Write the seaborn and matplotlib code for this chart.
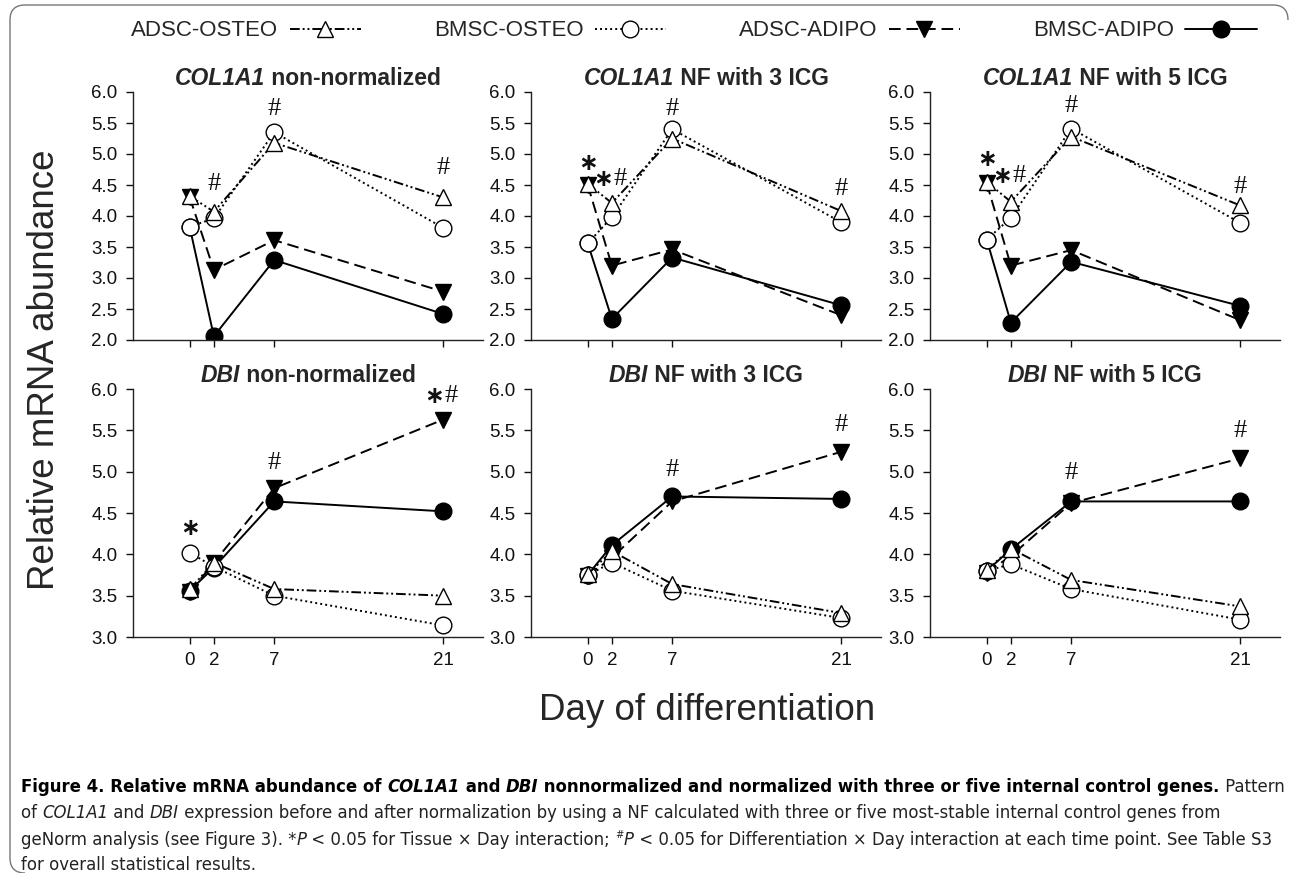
"""
Relative mRNA abundance of COL1A1 and DBI, six panels with a shared legend and caption.
"""

#Libraries
import numpy as np
import pandas as pd
import matplotlib
matplotlib.use("Agg")
import matplotlib.pyplot as plt
import matplotlib.font_manager as fm
from matplotlib.path import Path
from matplotlib.patches import PathPatch
from matplotlib.transforms import IdentityTransform
import seaborn as sns

#Data
days = [0, 2, 7, 21]
series = ["ADSC-OSTEO", "BMSC-OSTEO", "ADSC-ADIPO", "BMSC-ADIPO"]

col1a1_raw_adsc_osteo = [4.32, 4.07, 5.18, 4.30]
col1a1_raw_bmsc_osteo = [3.83, 3.96, 5.35, 3.81]
col1a1_raw_adsc_adipo = [4.30, 3.13, 3.61, 2.78]
col1a1_raw_bmsc_adipo = [3.82, 2.06, 3.29, 2.42]

col1a1_nf3_adsc_osteo = [4.52, 4.21, 5.25, 4.08]
col1a1_nf3_bmsc_osteo = [3.56, 3.98, 5.40, 3.90]
col1a1_nf3_adsc_adipo = [4.50, 3.20, 3.46, 2.40]
col1a1_nf3_bmsc_adipo = [3.56, 2.34, 3.33, 2.56]

col1a1_nf5_adsc_osteo = [4.55, 4.23, 5.28, 4.17]
col1a1_nf5_bmsc_osteo = [3.62, 3.97, 5.41, 3.89]
col1a1_nf5_adsc_adipo = [4.53, 3.20, 3.45, 2.32]
col1a1_nf5_bmsc_adipo = [3.62, 2.28, 3.26, 2.55]

dbi_raw_adsc_osteo = [3.58, 3.90, 3.58, 3.50]
dbi_raw_bmsc_osteo = [4.02, 3.85, 3.50, 3.14]
dbi_raw_adsc_adipo = [3.54, 3.90, 4.80, 5.63]
dbi_raw_bmsc_adipo = [3.56, 3.84, 4.64, 4.52]

dbi_nf3_adsc_osteo = [3.76, 4.04, 3.64, 3.29]
dbi_nf3_bmsc_osteo = [3.75, 3.90, 3.56, 3.23]
dbi_nf3_adsc_adipo = [3.74, 3.96, 4.64, 5.24]
dbi_nf3_bmsc_adipo = [3.75, 4.11, 4.70, 4.67]

dbi_nf5_adsc_osteo = [3.81, 4.07, 3.69, 3.37]
dbi_nf5_bmsc_osteo = [3.80, 3.88, 3.58, 3.21]
dbi_nf5_adsc_adipo = [3.78, 3.98, 4.62, 5.16]
dbi_nf5_bmsc_adipo = [3.80, 4.06, 4.64, 4.64]

#Significance marks: (day, value, mark)
col1a1_raw_marks = [(2, 4.52, "#"), (7, 5.72, "#"), (21, 4.77, "#")]
col1a1_nf3_marks = [(0, 4.85, "*"), (2, 4.59, "*#"), (7, 5.73, "#"), (21, 4.43, "#")]
col1a1_nf5_marks = [(0, 4.92, "*"), (2, 4.64, "*#"), (7, 5.78, "#"), (21, 4.47, "#")]
dbi_raw_marks = [(0, 4.32, "*"), (7, 5.11, "#"), (21, 5.92, "*#")]
dbi_nf3_marks = [(7, 5.02, "#"), (21, 5.57, "#")]
dbi_nf5_marks = [(7, 4.98, "#"), (21, 5.49, "#")]

panel_genes = ["COL1A1", "COL1A1", "COL1A1", "DBI", "DBI", "DBI"]
panel_suffix = [" non-normalized", " NF with 3 ICG", " NF with 5 ICG",
                " non-normalized", " NF with 3 ICG", " NF with 5 ICG"]
row_ylims = [(2.0, 6.0), (3.0, 6.0)]
y_ticks = [np.arange(2.0, 6.01, 0.5), np.arange(3.0, 6.01, 0.5)]

panel_values = [
    [col1a1_raw_adsc_osteo, col1a1_raw_bmsc_osteo, col1a1_raw_adsc_adipo, col1a1_raw_bmsc_adipo],
    [col1a1_nf3_adsc_osteo, col1a1_nf3_bmsc_osteo, col1a1_nf3_adsc_adipo, col1a1_nf3_bmsc_adipo],
    [col1a1_nf5_adsc_osteo, col1a1_nf5_bmsc_osteo, col1a1_nf5_adsc_adipo, col1a1_nf5_bmsc_adipo],
    [dbi_raw_adsc_osteo, dbi_raw_bmsc_osteo, dbi_raw_adsc_adipo, dbi_raw_bmsc_adipo],
    [dbi_nf3_adsc_osteo, dbi_nf3_bmsc_osteo, dbi_nf3_adsc_adipo, dbi_nf3_bmsc_adipo],
    [dbi_nf5_adsc_osteo, dbi_nf5_bmsc_osteo, dbi_nf5_adsc_adipo, dbi_nf5_bmsc_adipo],
]
panel_marks = [col1a1_raw_marks, col1a1_nf3_marks, col1a1_nf5_marks,
               dbi_raw_marks, dbi_nf3_marks, dbi_nf5_marks]

#Styles
styles = {
    "ADSC-OSTEO": dict(marker="^", markerfacecolor="white", linestyle=(0, (5, 1.5, 1, 1.5, 1, 1.5))),
    "BMSC-OSTEO": dict(marker="o", markerfacecolor="white", linestyle=(0, (1, 1.6))),
    "ADSC-ADIPO": dict(marker="v", markerfacecolor="black", linestyle=(0, (6, 3))),
    "BMSC-ADIPO": dict(marker="o", markerfacecolor="black", linestyle="-"),
}
draw_order = ["BMSC-ADIPO", "ADSC-ADIPO", "BMSC-OSTEO", "ADSC-OSTEO"]

W, H = 1290, 873

sns.set_style("ticks")
plt.rcParams["font.family"] = ["Liberation Sans", "DejaVu Sans"]


#Use a condensed face for the caption when one is installed.
def caption_props():
    for fam, stretch in [("Liberation Sans Narrow", "normal"), ("DejaVu Sans", "condensed")]:
        try:
            path = fm.findfont(fm.FontProperties(family=fam, stretch=stretch), fallback_to_default=False)
        except Exception:
            continue
        if "Narrow" in path or "Condensed" in path:
            return dict(family=fam, fontstretch=stretch)
    return dict(family="Liberation Sans")


cap_font = caption_props()

fig = plt.figure(figsize=(W / 100, H / 100), dpi=100)
renderer = fig.canvas.get_renderer()


def text_width(s, **kw):
    kw = {k: v for k, v in kw.items() if k != "dy"}
    t1 = fig.text(0, 0, "|" + s + "|", **kw)
    t2 = fig.text(0, 0, "||", **kw)
    w = t1.get_window_extent(renderer).width - t2.get_window_extent(renderer).width
    t1.remove()
    t2.remove()
    return w


#Draw a line of mixed-style text at pixel position (x, baseline y from top).
def rich_line(x, y, parts, ha="left"):
    widths = [text_width(s, **kw) for s, kw in parts]
    total = sum(widths)
    cursor = x - total / 2 if ha == "center" else x
    for (s, kw), w in zip(parts, widths):
        kw = dict(kw)
        dy = kw.pop("dy", 0)
        fig.text(cursor / W, 1 - (y - dy) / H, s, ha="left", va="baseline", **kw)
        cursor += w
    return total


#Axes layout in pixels: left edges, top edges
col_left = [133, 531, 930]
row_top = [92, 389]
ax_w, ax_h = 350, 248

hash_kw = dict(fontsize=19, family="Liberation Serif", color="#111")
star_kw = dict(fontsize=17, family="DejaVu Sans", fontweight="bold", color="#111")

axes = []
for i in range(6):
    r, c = divmod(i, 3)
    ax = fig.add_axes([col_left[c] / W, 1 - (row_top[r] + ax_h) / H, ax_w / W, ax_h / H])
    axes.append(ax)

    frames = []
    for name, vals in zip(series, panel_values[i]):
        frames.append(pd.DataFrame({"day": days, "value": vals, "group": name}))
    df = pd.concat(frames, ignore_index=True)

    for name in draw_order:
        st = styles[name]
        sns.lineplot(data=df[df["group"] == name], x="day", y="value", ax=ax,
                     color="black", linewidth=1.4, marker=st["marker"],
                     markersize=12, markerfacecolor=st["markerfacecolor"],
                     markeredgecolor="black", markeredgewidth=1.0,
                     linestyle=st["linestyle"], errorbar=None, label=name)
    if ax.get_legend() is not None:
        ax.get_legend().remove()

    for d, v, m in panel_marks[i]:
        if m == "#":
            ax.text(d, v, "#", ha="center", va="center", **hash_kw)
        elif m == "*":
            ax.text(d, v, "\u2217", ha="center", va="center", **star_kw)
        else:
            ax.annotate("\u2217", (d, v), xytext=(-6.5, 0), textcoords="offset points",
                        ha="center", va="center", **star_kw)
            ax.annotate("#", (d, v), xytext=(6, 0), textcoords="offset points",
                        ha="center", va="center", **hash_kw)

    ax.set_xlim(-4.7, 24.3)
    ax.set_ylim(*row_ylims[r])
    ax.set_xticks(days)
    ax.set_yticks(y_ticks[r])
    ax.set_yticklabels([f"{t:.1f}" for t in y_ticks[r]])
    ax.set(xlabel="", ylabel="")
    ax.tick_params(direction="out", length=5, width=1, labelsize=13.5, pad=6, colors="#111")
    if r == 0:
        ax.tick_params(axis="x", labelbottom=False)
    sns.despine(ax=ax)
    for sp in ["left", "bottom"]:
        ax.spines[sp].set_linewidth(1.0)
        ax.spines[sp].set_color("#222")

    #Title with italic gene name
    cx = col_left[c] + ax_w / 2
    ty = row_top[r] - 7
    rich_line(cx, ty, [(panel_genes[i], dict(fontsize=16.5, fontweight="bold", fontstyle="italic")),
                       (panel_suffix[i], dict(fontsize=16.5, fontweight="bold"))], ha="center")

#Legend
handles, labels = axes[0].get_legend_handles_labels()
lookup = dict(zip(labels, handles))
fig.legend([lookup[s] for s in series], series, loc="center", bbox_to_anchor=(694 / W, 1 - 31 / H),
           ncol=4, frameon=False, markerfirst=False, fontsize=16, handlelength=3.2,
           handletextpad=0.5, columnspacing=3.3)

#Axis labels
fig.text(45 / W, 1 - 370 / H, "Relative mRNA abundance", rotation=90, ha="center", va="center", fontsize=26.5)
fig.text(707 / W, 1 - 711 / H, "Day of differentiation", ha="center", va="center", fontsize=26.5)


#Caption
def caption_styles(size):
    bold = dict(fontsize=size, fontweight="bold", color="black", **cap_font)
    bold_it = dict(bold, fontstyle="italic")
    reg = dict(fontsize=size, color="#222", **cap_font)
    it = dict(reg, fontstyle="italic")
    sup = dict(reg, fontsize=size * 0.6, dy=size * 0.55)
    return bold, bold_it, reg, it, sup


def caption_line1(size):
    bold, bold_it, reg, it, sup = caption_styles(size)
    return [("Figure 4. Relative mRNA abundance of ", bold), ("COL1A1", bold_it), (" and ", bold),
            ("DBI", bold_it), (" nonnormalized and normalized with three or five internal control genes.", bold),
            (" Pattern", reg)]


#Scale the caption so its first line spans the frame width, as in the printed figure.
w10 = sum(text_width(s, **kw) for s, kw in caption_line1(10))
cap = 10 * 1254 / w10
bold, bold_it, reg, it, sup = caption_styles(cap)

rich_line(21, 792, caption_line1(cap))
rich_line(21, 818, [("of ", reg), ("COL1A1", it), (" and ", reg), ("DBI", it),
                    (" expression before and after normalization by using a NF calculated with three or five most-stable internal control genes from", reg)])
line3 = [("geNorm analysis (see Figure 3). *", reg), ("P", it), (" < 0.05 for Tissue \u00d7 Day interaction; ", reg)]
rich_line(21, 845, line3 + [("#", sup), ("P", it),
                            (" < 0.05 for Differentiation \u00d7 Day interaction at each time point. See Table S3", reg)])
rich_line(21, 870, [("for overall statistical results.", reg)])

#Rounded frame on the left and top
pts = [(1288, 20), (1288, 5), (1273, 5), (25, 5), (10, 5), (10, 20), (10, 858), (10, 873), (25, 873)]
codes = [Path.MOVETO, Path.CURVE3, Path.CURVE3, Path.LINETO, Path.CURVE3, Path.CURVE3,
         Path.LINETO, Path.CURVE3, Path.CURVE3]
frame = Path([(x, H - y) for x, y in pts], codes)
fig.patches.append(PathPatch(frame, fill=False, edgecolor="#777", linewidth=1.0,
                             transform=IdentityTransform(), figure=fig))

fig.savefig("out.png", dpi=100)
